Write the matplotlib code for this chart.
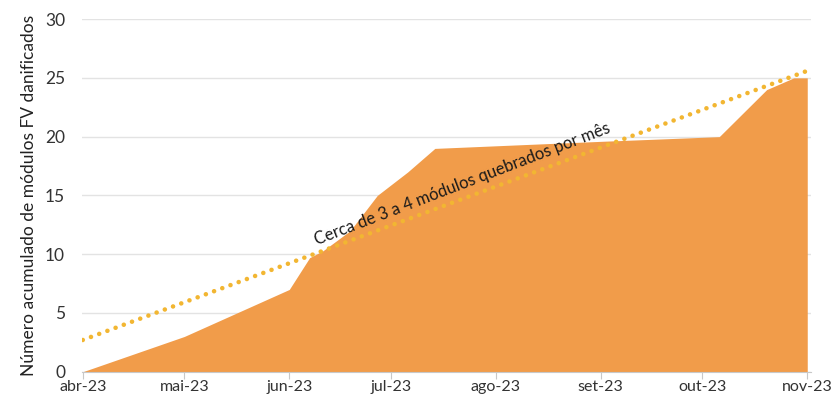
import pandas as pd
import numpy as np
import matplotlib.pyplot as plt
import matplotlib.dates as mdates

plt.rcParams['font.family'] = ['Lato', 'DejaVu Sans']

# cumulative damaged modules
dates = pd.to_datetime(['2023-04-01', '2023-05-01', '2023-06-01', '2023-06-07', '2023-06-11',
                        '2023-06-19', '2023-06-27', '2023-07-06', '2023-07-14', '2023-09-01',
                        '2023-10-06', '2023-10-20', '2023-10-28', '2023-11-01'])
modulos = [0, 3, 7, 9.7, 10.3, 12, 15, 17, 19, 19.6, 20, 24, 25, 25]

trend_dates = pd.to_datetime(['2023-04-01', '2023-11-01'])
trend_vals = [2.7, 25.6]

month_ticks = pd.date_range('2023-04-01', '2023-11-01', freq='MS')
month_labels = ['abr-23', 'mai-23', 'jun-23', 'jul-23', 'ago-23', 'set-23', 'out-23', 'nov-23']

fig = plt.figure(figsize=(8.34, 3.98), dpi=100)
ax = fig.add_axes([0.098, 0.066, 0.874, 0.886])

ax.fill_between(dates, 0, modulos, color='#F19C4A', linewidth=0, zorder=2)
ax.plot(trend_dates, trend_vals, color='#F2B632', linewidth=3.3,
        linestyle=(0, (0.01, 1.9)), dash_capstyle='round', zorder=3)

ax.text(pd.Timestamp('2023-07-22'), 16.0, 'Cerca de 3 a 4 módulos quebrados por mês',
        rotation=21, rotation_mode='anchor', ha='center', va='center',
        fontsize=12, color='#1a1a1a', zorder=4)

ax.set_ylim(0, 30)
ax.set_yticks(range(0, 31, 5))
ax.set_xlim(pd.Timestamp('2023-04-01') - pd.Timedelta(days=0.3), pd.Timestamp('2023-11-02'))
ax.set_xticks(month_ticks)
ax.set_xticklabels(month_labels)

ax.grid(axis='y', color='#e3e3e3', linewidth=1, zorder=0)
ax.set_axisbelow(True)
for s in ['top', 'right', 'left']:
    ax.spines[s].set_visible(False)
ax.spines['bottom'].set_color('#c8c8c8')
ax.tick_params(axis='x', length=5, color='#c8c8c8', labelsize=11.5, labelcolor='#333333', pad=1)
ax.tick_params(axis='y', length=0, labelsize=12.5, labelcolor='#333333', pad=12)

ax.set_ylabel('Número acumulado de módulos FV danificados', fontsize=12.5, color='#222222', labelpad=6)

fig.savefig('out.png', dpi=100)
